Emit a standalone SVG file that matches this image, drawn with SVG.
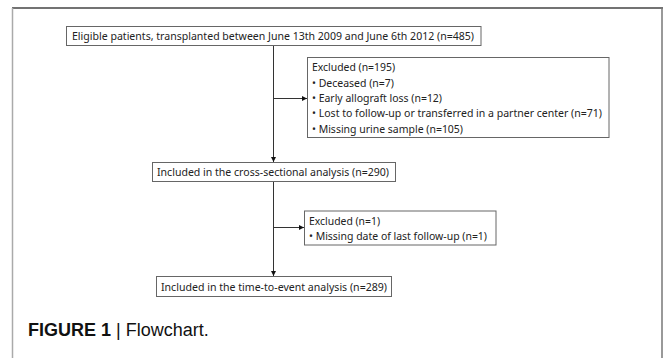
<svg xmlns="http://www.w3.org/2000/svg" width="663" height="358" viewBox="0 0 663 358">
<style>
.box{fill:#fff;stroke:#666;stroke-width:1}
.t{font-family:"Noto Sans","Open Sans",sans-serif;font-size:11.5px;fill:#222}
.c{stroke:#333;stroke-width:1;fill:none}
.cap{font-family:"Liberation Sans",Arial,sans-serif;font-size:18px;fill:#111}
</style>
<defs>
<marker id="ah" viewBox="0 0 10 10" refX="10" refY="5" markerWidth="5" markerHeight="5" orient="auto" markerUnits="userSpaceOnUse">
<path d="M0,0 L10,5 L0,10 z" fill="#111"/>
</marker>
</defs>
<rect x="0" y="0" width="663" height="358" fill="#fff"/>
<g id="frame">
<line x1="12" y1="8" x2="663" y2="8" stroke="#444" stroke-width="1.5"/>
<line x1="12.5" y1="8" x2="12.5" y2="358" stroke="#aaa" stroke-width="1.5"/>
<line x1="662" y1="8" x2="662" y2="358" stroke="#777" stroke-width="1.5"/>
</g>
<g id="connectors">
<line class="c" x1="273.5" y1="45.5" x2="273.5" y2="162" marker-end="url(#ah)"/>
<line class="c" x1="273.5" y1="98.5" x2="307" y2="98.5" marker-end="url(#ah)"/>
<line class="c" x1="273.5" y1="181" x2="273.5" y2="276" marker-end="url(#ah)"/>
<line class="c" x1="273.5" y1="227.5" x2="304" y2="227.5" marker-end="url(#ah)"/>
</g>
<g id="eligible">
<rect class="box" x="66.5" y="26.5" width="414.5" height="19"/>
<text class="t" x="72" y="40" textLength="402" lengthAdjust="spacingAndGlyphs">Eligible patients, transplanted between June 13th 2009 and June 6th 2012 (n=485)</text>
</g>
<g id="excluded1">
<rect class="box" x="307.5" y="57.5" width="301.5" height="80"/>
<text class="t" x="312" y="71" textLength="83" lengthAdjust="spacingAndGlyphs">Excluded (n=195)</text>
<text class="t" x="312" y="86.5" textLength="82" lengthAdjust="spacingAndGlyphs">• Deceased (n=7)</text>
<text class="t" x="312" y="101.5" textLength="130" lengthAdjust="spacingAndGlyphs">• Early allograft loss (n=12)</text>
<text class="t" x="312" y="117" textLength="290" lengthAdjust="spacingAndGlyphs">• Lost to follow-up or transferred in a partner center (n=71)</text>
<text class="t" x="312" y="132.5" textLength="151" lengthAdjust="spacingAndGlyphs">• Missing urine sample (n=105)</text>
</g>
<g id="cross">
<rect class="box" x="152.5" y="162.5" width="243" height="19"/>
<text class="t" x="157" y="176" textLength="232" lengthAdjust="spacingAndGlyphs">Included in the cross-sectional analysis (n=290)</text>
</g>
<g id="excluded2">
<rect class="box" x="304.5" y="211" width="191.5" height="34"/>
<text class="t" x="309" y="225" textLength="71" lengthAdjust="spacingAndGlyphs">Excluded (n=1)</text>
<text class="t" x="309" y="240" textLength="178" lengthAdjust="spacingAndGlyphs">• Missing date of last follow-up (n=1)</text>
</g>
<g id="timeevent">
<rect class="box" x="156.5" y="276.5" width="235" height="20"/>
<text class="t" x="161" y="290.5" textLength="226" lengthAdjust="spacingAndGlyphs">Included in the time-to-event analysis (n=289)</text>
</g>
<text class="cap" x="28" y="336"><tspan font-weight="bold">FIGURE 1</tspan> | Flowchart.</text>
</svg>
